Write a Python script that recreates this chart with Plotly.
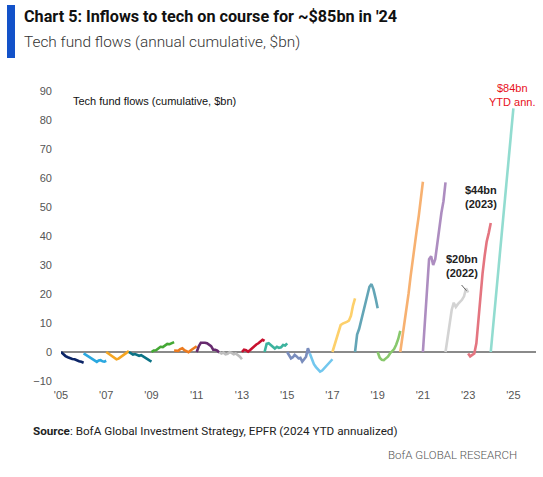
import numpy as np
import plotly.graph_objects as go

# ---- data: annual cumulative tech fund flows ($bn), sampled evenly through each year
years = list(range(2005, 2025))
f2005 = [0, -0.8, -1.4, -1.8, -2.2, -2.4, -2.5, -2.9, -3.2, -3.4, -3.7]
f2006 = [-0.5, -0.9, -1.4, -1.8, -2.3, -2.7, -3.2, -3.4, -2.9, -2.8, -3.2, -3.3, -3.0]
f2007 = [0, -0.5, -1.0, -1.5, -2.0, -2.5, -2.3, -1.8, -1.2, -0.7, -0.2, 0.3]
f2008 = [0, -0.5, -0.9, -0.7, -0.9, -1.3, -1.1, -1.6, -2.2, -2.4, -2.9, -3.3]
f2009 = [0, 0.5, 0.6, 1.2, 1.8, 1.7, 2.3, 2.8, 2.7, 3.0, 3.4]
f2010 = [0.5, 0.5, 0.4, 1.0, 1.3, 0.6, 0.2, -0.1, 0.5, 1.0, 1.8, 2.0]
f2011 = [0, 2.0, 3.2, 3.3, 3.2, 3.0, 2.6, 2.0, 0.8, 0.8, 0.5, -0.2]
f2012 = [0, -0.5, -0.2, -0.8, -0.6, -0.1, -0.3, -0.8, -0.5, -1.0, -1.6, -2.5]
f2013 = [0, 0.8, 0.6, 0.1, 0.7, 1.4, 1.8, 2.6, 3.0, 3.6, 4.2, 3.8]
f2014 = [0, 2.8, 3.0, 2.4, 1.8, 1.2, 1.8, 1.4, 1.6, 2.4, 2.2, 3.0]
f2015 = [0, -1.0, -2.2, -1.8, -1.0, -1.5, -2.2, -2.0, -3.3, -2.5, -1.6, 1.3, -0.5]
f2016 = [-0.5, -2.5, -4.2, -5.2, -6.2, -6.8, -6.4, -5.6, -5.0, -4.2, -3.4, -2.5]
f2017 = [0, 2.5, 4.5, 7.0, 9.3, 9.8, 10.0, 10.4, 10.8, 12.5, 16.0, 18.5]
f2018 = [0, 6.0, 8.0, 11.0, 13.0, 16.0, 19.5, 22.5, 23.4, 21.5, 18.5, 15.1]
f2019 = [0, -2.0, -2.7, -2.8, -2.2, -1.6, -0.5, 0.3, 1.0, 2.5, 4.5, 7.3]
f2020 = [0, 5, 10, 14, 20, 26, 32, 36, 42, 47, 52, 58.7]
f2021 = [0, 12, 24, 32, 33, 30, 32, 38, 44, 48, 52, 58.5]
f2022 = [0, 5, 10.5, 14.5, 17, 15.5, 16.5, 17.3, 18, 19.2, 22, 20.5]
f2023 = [-0.5, -1.5, -1.0, -0.5, 3, 12, 20, 27, 33, 38, 41, 44.5]
f2024 = [0, 84]  # 2024 YTD annualized
series = [f2005, f2006, f2007, f2008, f2009, f2010, f2011, f2012, f2013, f2014,
          f2015, f2016, f2017, f2018, f2019, f2020, f2021, f2022, f2023, f2024]

tick_vals = list(range(2005, 2026, 2))
tick_text = ["'05", "'07", "'09", "'11", "'13", "'15", "'17", "'19", "'21", "'23", "'25"]

# ---- styles
colors = ["#0b2466", "#2aa8e0", "#f5a623", "#0b7285", "#45a835", "#ec7b1f", "#662a6e",
          "#bdbdbd", "#c8102e", "#3cb39e", "#7a8dbd", "#72c7ee", "#fdd06b", "#63a5b6",
          "#88c86c", "#f7b171", "#ad8dc0", "#d3d3d3", "#e47580", "#92dcd0"]

HEAD = "Roboto, Liberation Sans, Arial, sans-serif"
ARIAL = "Liberation Sans, Arial, sans-serif"

fig = go.Figure()
for yr, vals, col in zip(years, series, colors):
    x = np.linspace(yr, yr + 1, len(vals))
    fig.add_trace(go.Scatter(x=x, y=vals, mode="lines",
                             line=dict(color=col, width=2.6), name=str(yr),
                             hoverinfo="x+y"))

L, R, T, B = 61, 7, 91, 96
W, H = 543, 477
pw, ph = W - L - R, H - T - B

def px(xp):
    return (xp - L) / pw

def py(yp):
    return (H - B - yp) / ph

fig.update_layout(
    width=W, height=H,
    margin=dict(l=L, r=R, t=T, b=B),
    paper_bgcolor="white", plot_bgcolor="white",
    showlegend=False,
    xaxis=dict(range=[2005, 2026], tickvals=tick_vals, ticktext=tick_text,
               showgrid=False, zeroline=False, showline=False, ticks="",
               tickfont=dict(family=ARIAL, size=11, color="#555555"),
               ticklabelstandoff=6),
    yaxis=dict(range=[-10, 90], dtick=10, showgrid=False, showline=False, ticks="",
               zeroline=True, zerolinecolor="#8a8a8a", zerolinewidth=1.6,
               tickfont=dict(family=ARIAL, size=11, color="#555555"),
               ticklabelstandoff=8),
)

# blue title bar
fig.add_shape(type="rect", xref="paper", yref="paper",
              x0=px(7), x1=px(15), y0=py(58), y1=py(5),
              fillcolor="#1352c9", line=dict(width=0))

# leader line for the 2022 label
fig.add_shape(type="line", xref="x", yref="y", x0=2022.71, y0=23.1, x1=2022.93, y1=21.1,
              line=dict(color="#666666", width=1))

ann = []
ann.append(dict(xref="paper", yref="paper", x=px(22), y=py(16), xanchor="left", yanchor="middle",
                text="<b>Chart 5: Inflows to tech on course for ~$85bn in '24</b>", showarrow=False,
                font=dict(family=HEAD, size=16.2, color="#111111")))
ann.append(dict(xref="paper", yref="paper", x=px(22), y=py(42), xanchor="left", yanchor="middle",
                text="Tech fund flows (annual cumulative, $bn)", showarrow=False,
                font=dict(family=HEAD, size=15.4, color="#333333", weight=300)))
ann.append(dict(xref="x", yref="y", x=2005.43, y=86.6, xanchor="left", yanchor="middle",
                text="Tech fund flows (cumulative, $bn)", showarrow=False,
                font=dict(family=ARIAL, size=11, color="#111111")))
ann.append(dict(xref="x", yref="y", x=2023.57, y=53.3, xanchor="center", yanchor="middle",
                text="<b>$44bn<br>(2023)</b>", showarrow=False,
                font=dict(family=ARIAL, size=11, color="#222222")))
ann.append(dict(xref="x", yref="y", x=2022.71, y=29.5, xanchor="center", yanchor="middle",
                text="<b>$20bn<br>(2022)</b>", showarrow=False,
                font=dict(family=ARIAL, size=11, color="#222222")))
ann.append(dict(xref="x", yref="y", x=2024.92, y=88.7, xanchor="center", yanchor="middle",
                text="$84bn<br>YTD ann.", showarrow=False,
                font=dict(family=ARIAL, size=11, color="#e8101a")))
ann.append(dict(xref="paper", yref="paper", x=px(31), y=py(431), xanchor="left", yanchor="middle",
                text="<b>Source</b>: BofA Global Investment Strategy, EPFR (2024 YTD annualized)",
                showarrow=False, font=dict(family=HEAD, size=11.7, color="#222222")))
ann.append(dict(xref="paper", yref="paper", x=px(519), y=py(455), xanchor="right", yanchor="middle",
                text="BofA GLOBAL RESEARCH", showarrow=False,
                font=dict(family=HEAD, size=11.5, color="#555555", weight=300)))
fig.update_layout(annotations=ann)

fig.write_html("out.html", config={"displayModeBar": False},
               post_script="document.body.style.margin='0';")
